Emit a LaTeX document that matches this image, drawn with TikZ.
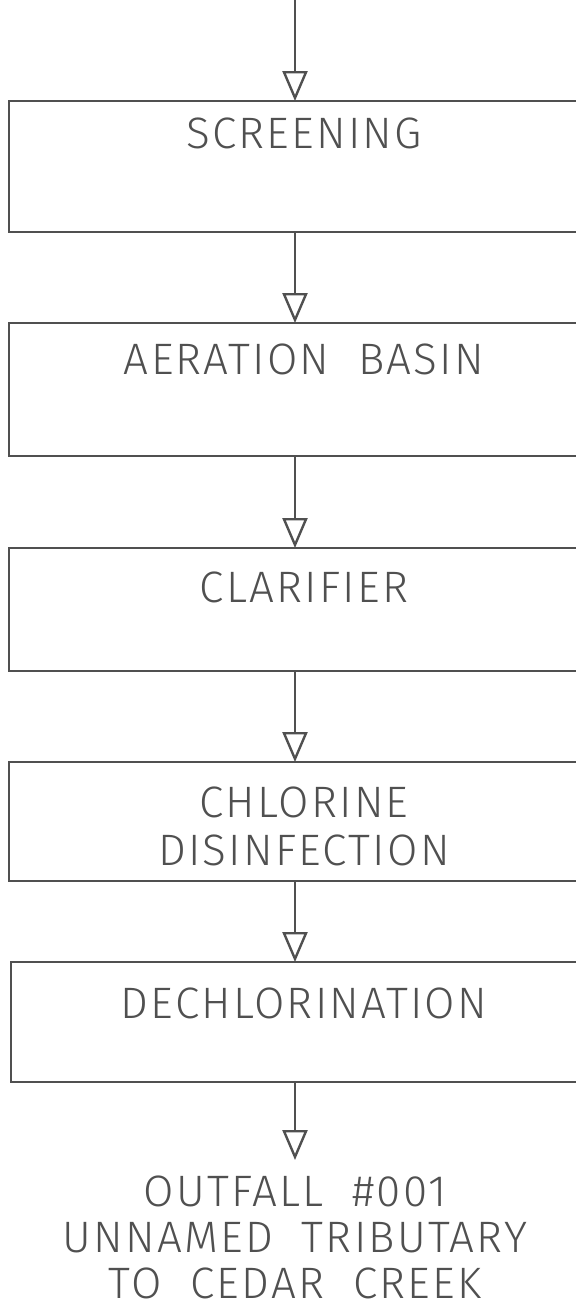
\documentclass[tikz,border=0pt]{standalone}
\usepackage{fontspec}
\setmainfont{Fira Sans Light}[LetterSpace=5]
\usepackage{tikz}
\usetikzlibrary{positioning,arrows.meta}
\definecolor{cad}{HTML}{505050}
\tikzset{node distance=45.5pt, x=1pt, y=1pt,
  stage/.style={draw=cad, line width=1.2pt, rectangle, minimum width=320pt, inner sep=0pt, outer sep=0pt, anchor=north west},
  stagetext/.style={text=cad, font=\fontsize{22}{24}\selectfont, inner sep=0pt, anchor=north, align=center},
  flow/.style={draw=cad, line width=1.2pt, -{Triangle[open, length=15pt, width=12.5pt, line width=1.2pt]}}}

\begin{document}
\begin{tikzpicture}
\clip (0,0) rectangle (288,-657);
\coordinate (inlet) at (147.5,0);
\coordinate (mid) at (152,0);
\node (scr) [stage, minimum height=65.5pt] at (4.5,-50.5) {};
\node (aer) [stage, minimum height=66.5pt, below=of scr.south west, anchor=north west] {};
\node (cla) [stage, minimum height=61.5pt, below=46pt of aer.south west, anchor=north west] {};
\node (chl) [stage, minimum height=59.5pt, below=of cla.south west, anchor=north west] {};
\node (dec) [stage, minimum height=60pt, below=40.5pt of chl.south west, anchor=north west, xshift=1pt] {};
\coordinate (out) at ([yshift=-39pt]dec.south -| inlet);
\node (scrtext) [stagetext] at ([yshift=-8pt]scr.north -| mid) {SCREENING};
\node (aertext) [stagetext] at ([yshift=-10pt]aer.north -| mid) {AERATION\ \ BASIN};
\node (clatext) [stagetext] at ([yshift=-11.5pt]cla.north -| mid) {CLARIFIER};
\node (chltext) [stagetext] at ([yshift=-12pt]chl.north -| mid) {CHLORINE\\DISINFECTION};
\node (dectext) [stagetext] at ([yshift=-12.5pt]dec.north -| mid) {DECHLORINATION};
\node (outtext) [stagetext, font=\fontsize{22}{23}\selectfont] at ([yshift=-7.5pt]out) {OUTFALL\ \ \#001\\UNNAMED\ \ TRIBUTARY\\TO\ \ CEDAR\ \ CREEK};
\draw[flow] (inlet) -- (scr.north -| inlet);
\draw[flow] (scr.south -| inlet) -- (aer.north -| inlet);
\draw[flow] (aer.south -| inlet) -- (cla.north -| inlet);
\draw[flow] (cla.south -| inlet) -- (chl.north -| inlet);
\draw[flow] (chl.south -| inlet) -- (dec.north -| inlet);
\draw[flow] (dec.south -| inlet) -- (out);
\end{tikzpicture}
\end{document}
